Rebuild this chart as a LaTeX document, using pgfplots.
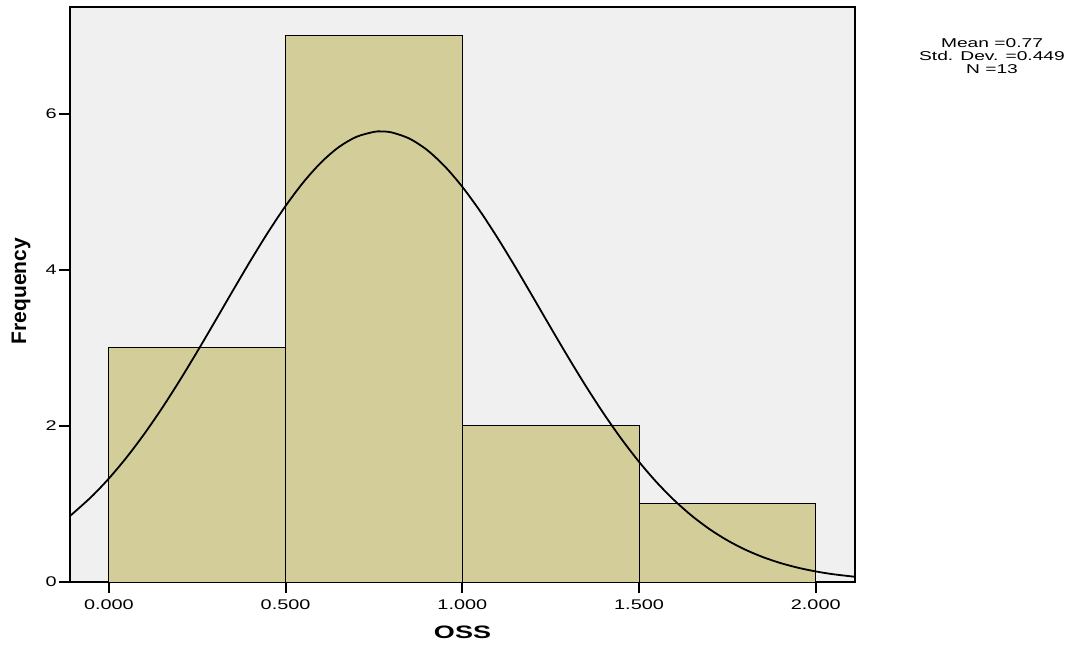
\documentclass[border=0pt]{standalone}
\usepackage{pgfplots}
\pgfplotsset{compat=1.18}
\usepackage{fontspec}
\setmainfont{Liberation Sans}
\usepackage{graphicx}
\definecolor{barfill}{RGB}{211,206,153}
\definecolor{bg}{RGB}{240,240,240}
\newcommand{\hs}[1]{\scalebox{1.42}[1]{#1}}
\begin{document}
\begin{tikzpicture}
\path[use as bounding box] (0,0) rectangle (538pt,322.5pt);
\begin{axis}[
  at={(35pt,31.5pt)}, anchor=south west,
  scale only axis, width=392.5pt, height=287.5pt,
  xmin=-0.11, xmax=2.111, ymin=0, ymax=7.37,
  axis background/.style={fill=bg},
  axis line style={line width=0.9pt},
  xtick={0,0.5,1,1.5,2}, ytick={0,2,4,6},
  xticklabels={\hs{0.000},\hs{0.500},\hs{1.000},\hs{1.500},\hs{2.000}},
  yticklabels={\hs{0},\hs{2},\hs{4},\hs{6}},
  xtick pos=left, ytick pos=left,
  xtick align=outside, ytick align=outside,
  major tick length=5.5pt,
  x tick style={draw=none},
  y tick style={line width=0.9pt, black},
  ticklabel style={font=\fontsize{7}{8}\selectfont},
  yticklabel style={inner sep=1pt},
  clip=false,
]
\addplot[ybar, bar width=0.5, bar shift=0pt, fill=barfill, draw=black, line width=0.5pt]
  coordinates {(0.25,3) (0.75,7) (1.25,2) (1.75,1)};
\addplot[smooth, line width=0.9pt, black] coordinates {
(-0.11,0.8461) (-0.05,1.0898) (0.00,1.3272) (0.05,1.5966) (0.10,1.8971)
(0.15,2.2259) (0.20,2.5800) (0.25,2.9533) (0.30,3.3390) (0.35,3.7287)
(0.40,4.1127) (0.45,4.4800) (0.50,4.8201) (0.55,5.1222) (0.60,5.3759)
(0.65,5.5727) (0.70,5.7055) (0.75,5.7696) (0.77,5.7753) (0.80,5.7624)
(0.85,5.6843) (0.90,5.5382) (0.95,5.3293) (1.00,5.0652) (1.05,4.7549)
(1.10,4.4082) (1.15,4.0369) (1.20,3.6510) (1.25,3.2614) (1.30,2.8775)
(1.35,2.5075) (1.40,2.1581) (1.45,1.8346) (1.50,1.5402) (1.55,1.2772)
(1.60,1.0460) (1.65,0.8461) (1.70,0.6760) (1.75,0.5335) (1.80,0.4158)
(1.85,0.3201) (1.90,0.2434) (1.95,0.1827) (2.00,0.1355) (2.05,0.0993)
(2.111,0.0672)};
\draw[line width=0.9pt] (axis cs:0,0) -- ([yshift=-5.5pt]axis cs:0,0);
\draw[line width=0.9pt] (axis cs:0.5,0) -- ([yshift=-5.5pt]axis cs:0.5,0);
\draw[line width=0.9pt] (axis cs:1,0) -- ([yshift=-5.5pt]axis cs:1,0);
\draw[line width=0.9pt] (axis cs:1.5,0) -- ([yshift=-5.5pt]axis cs:1.5,0);
\draw[line width=0.9pt] (axis cs:2,0) -- ([yshift=-5.5pt]axis cs:2,0);
\end{axis}
\node[font=\fontsize{9}{10}\bfseries\selectfont] at (231.25pt,6.5pt) {\scalebox{1.5}[1]{OSS}};
\node[font=\fontsize{10.5}{11}\bfseries\selectfont, rotate=90] at (10.5pt,177pt) {Frequency};
\node[anchor=north, font=\fontsize{6.4}{6.5}\selectfont, align=center, inner sep=0pt] at (496pt,303.5pt)
  {\scalebox{1.5}[1]{Mean =0.77}\\\scalebox{1.5}[1]{Std. Dev. =0.449}\\\scalebox{1.5}[1]{N =13}};
\end{tikzpicture}
\end{document}
